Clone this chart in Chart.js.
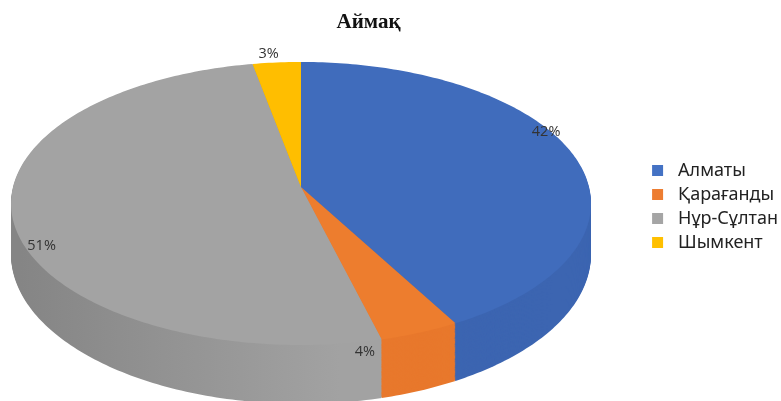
<!DOCTYPE html>
<html>
<head>
<meta charset="utf-8">
<script src="https://cdn.jsdelivr.net/npm/chart.js@4"></script>
<style>
  html, body { margin: 0; padding: 0; background: #fff; }
  canvas { display: block; }
</style>
</head>
<body>
<canvas id="chart" width="781" height="401"></canvas>
<script>
const regions = ["Алматы", "Қарағанды", "Нұр-Сұлтан", "Шымкент"];
const shares = [42, 4, 51, 3];
const legendColors = ["#4472c4", "#ed7d31", "#a5a5a5", "#ffc000"];
const topColors = ["#406cbc", "#ed7d2e", "#a3a3a3", "#ffbe00"];
const sideColors = ["#3c65b1", "#e8782c", "#969696", "#e0a800"];

// where the percent labels sit, relative to the middle of each slice's rim
const labelOffsets = [[-26, -21], [-55, 19], [29, 28], [-8, -9]];

// perspective of the tilted disc
const view = { x: 301, y: 187, rx: 288, ry: 139.6, tilt: 0.1166, depth: 50, grow: 0.056 };

function project(angle, lift) {
    const dx = Math.cos(angle);
    const dy = Math.sin(angle);
    const w = 1 - view.tilt * dy;
    return {
        x: view.x + view.rx * dx / w,
        y: view.y + view.depth * lift + view.ry * (1 + view.grow * lift) * dy / w,
    };
}

function sliceOutline(ctx, arc, lift) {
    const steps = Math.max(4, Math.ceil((arc.endAngle - arc.startAngle) * 60));
    ctx.beginPath();
    ctx.moveTo(view.x, view.y + view.depth * lift);
    for (let i = 0; i <= steps; i++) {
        const a = arc.startAngle + (arc.endAngle - arc.startAngle) * i / steps;
        const p = project(a, lift);
        ctx.lineTo(p.x, p.y);
    }
    ctx.closePath();
}

const tiltedPie = {
    id: "tiltedPie",
    beforeDatasetsDraw(chart) {
        const ctx = chart.ctx;
        const arcs = chart.getDatasetMeta(0).data;

        const graySide = ctx.createLinearGradient(20, 0, 340, 0);
        graySide.addColorStop(0, "#858585");
        graySide.addColorStop(1, "#a2a2a2");

        ctx.save();
        for (let d = view.depth; d > 0; d--) {
            arcs.forEach((arc, i) => {
                sliceOutline(ctx, arc, d / view.depth);
                ctx.fillStyle = i === 2 ? graySide : sideColors[i];
                ctx.fill();
            });
        }
        arcs.forEach((arc, i) => {
            sliceOutline(ctx, arc, 0);
            ctx.fillStyle = topColors[i];
            ctx.fill();
        });

        ctx.font = "14.5px 'Open Sans'";
        ctx.fillStyle = "#333";
        ctx.textAlign = "center";
        ctx.textBaseline = "middle";
        arcs.forEach((arc, i) => {
            const rim = project((arc.startAngle + arc.endAngle) / 2, 0);
            ctx.fillText(shares[i] + "%", rim.x + labelOffsets[i][0], rim.y + labelOffsets[i][1]);
        });
        ctx.restore();
        return false;
    },
    afterLayout(chart) {
        // title sits over the pie side, legend hugs the right edge
        chart.titleBlock.left -= 22;
        chart.titleBlock.right -= 22;
        const legend = chart.legend;
        legend.left += 7;
        legend.right += 7;
        legend.top += 6;
        legend.bottom += 6;
    },
};

new Chart(document.getElementById("chart"), {
    type: "pie",
    data: {
        labels: regions,
        datasets: [{ data: shares, backgroundColor: legendColors, borderWidth: 0 }],
    },
    plugins: [tiltedPie],
    options: {
        responsive: false,
        animation: false,
        plugins: {
            tooltip: { enabled: false },
            title: {
                display: true,
                text: "Аймақ",
                color: "#111",
                font: { family: "'Liberation Serif'", size: 21, weight: "bold" },
                padding: { top: 10, bottom: 9 },
            },
            legend: {
                position: "right",
                labels: {
                    boxWidth: 11,
                    boxHeight: 11,
                    padding: 6,
                    color: "#222",
                    font: { family: "'Noto Sans'", size: 18 },
                    generateLabels(chart) {
                        // a little extra gap between swatch and name
                        return Chart.overrides.pie.plugins.legend.labels.generateLabels(chart)
                            .map((item) => ({ ...item, text: "\u2004" + item.text }));
                    },
                },
            },
        },
    },
});
</script>
</body>
</html>
